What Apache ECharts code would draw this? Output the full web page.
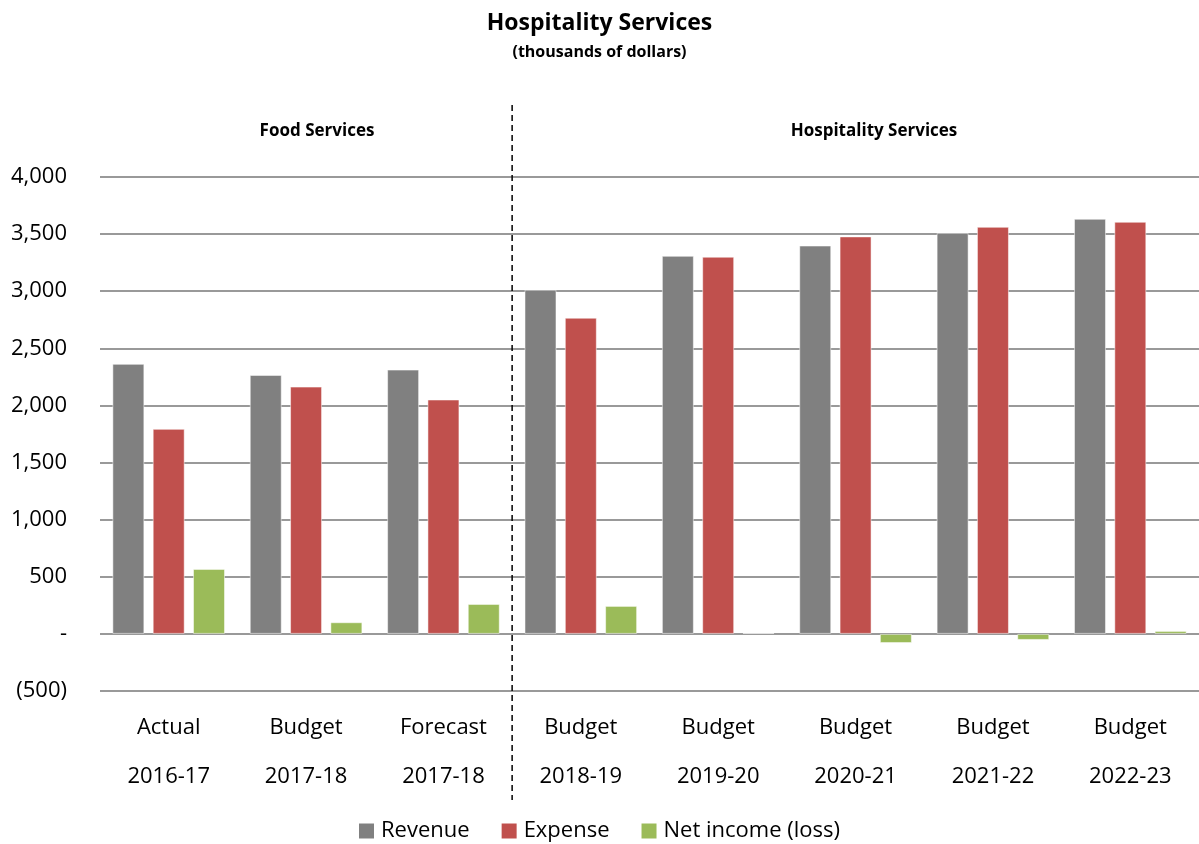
<!DOCTYPE html>
<html>
<head>
<meta charset="utf-8">
<title>Hospitality Services</title>
<script src="https://cdn.jsdelivr.net/npm/echarts@6/dist/echarts.min.js"></script>
<style>
	html, body { margin: 0; padding: 0; background: #fff; }
	#chart { width: 1199px; height: 844px; }
</style>
</head>
<body>
<div id="chart"></div>
<script>
// chart data
var kinds = ['Actual', 'Budget', 'Forecast', 'Budget', 'Budget', 'Budget', 'Budget', 'Budget'];
var years = ['2016-17', '2017-18', '2017-18', '2018-19', '2019-20', '2020-21', '2021-22', '2022-23'];
var revenue = [2364, 2267, 2314, 3013, 3310, 3400, 3511, 3634];
var expense = [1795, 2165, 2052, 2768, 3302, 3480, 3564, 3608];
var netIncome = [569, 102, 262, 245, 8, -80, -53, 26];
var sections = ['Food Services', 'Hospitality Services'];

var font = '"Open Sans", "Liberation Sans", sans-serif';
var categories = kinds.map(function (k, i) { return k + '\n' + years[i]; });

function barSeries(name, data, color) {
	return {
		name: name,
		type: 'bar',
		data: data,
		barWidth: 32,
		barGap: '26%',
		itemStyle: { color: color, borderColor: 'rgba(255,255,255,0.5)', borderWidth: 1 }
	};
}

var myChart = echarts.init(document.getElementById('chart'));

var option = {
	animation: false,
	textStyle: { fontFamily: font },
	title: {
		text: 'Hospitality Services',
		subtext: '(thousands of dollars)',
		left: 'center',
		top: 7,
		itemGap: 9,
		textStyle: { fontSize: 23, fontWeight: 'bold', color: '#000', fontFamily: font },
		subtextStyle: { fontSize: 16, fontWeight: 'bold', color: '#000', fontFamily: font }
	},
	legend: {
		top: 815,
		left: 'center',
		icon: 'rect',
		itemWidth: 15,
		itemHeight: 15,
		itemGap: 32,
		itemStyle: { borderWidth: 0 },
		textStyle: { fontSize: 22, color: '#000', fontFamily: font, padding: [0, 0, 0, 2] },
		data: ['Revenue', 'Expense', 'Net income (loss)']
	},
	grid: { left: 100, right: 0, top: 177, bottom: 153 },
	xAxis: {
		type: 'category',
		data: categories,
		axisLine: { show: false, onZero: false },
		axisTick: { show: false },
		axisLabel: {
			fontSize: 22,
			color: '#000',
			lineHeight: 49,
			margin: 12,
			fontFamily: font
		}
	},
	yAxis: {
		type: 'value',
		min: -500,
		max: 4000,
		interval: 500,
		axisLine: { show: false },
		axisTick: { show: false },
		splitLine: { lineStyle: { color: '#999', width: 2 } },
		axisLabel: {
			fontSize: 22,
			color: '#000',
			margin: 33,
			fontFamily: font,
			formatter: function (v) {
				if (v === 0) return '-';
				var s = Math.abs(v).toLocaleString('en-US');
				return v < 0 ? '(' + s + ')' : s;
			}
		}
	},
	series: [
		barSeries('Revenue', revenue, '#808080'),
		barSeries('Expense', expense, '#C0504D'),
		barSeries('Net income (loss)', netIncome, '#9BBB59')
	]
};

myChart.setOption(option);

// divider between the two sections and their headings
var x3 = myChart.convertToPixel({ xAxisIndex: 0 }, 2);
var x4 = myChart.convertToPixel({ xAxisIndex: 0 }, 3);
var divX = (x3 + x4) / 2;
myChart.setOption({
	graphic: [
		{
			type: 'line',
			shape: { x1: divX, y1: 105, x2: divX, y2: 800 },
			style: { stroke: '#000', lineWidth: 1.5, lineDash: [6, 4] }
		},
		{
			type: 'text',
			x: 317, y: 131,
			style: { text: sections[0], fontSize: 17, fontWeight: 'bold', fill: '#000', fontFamily: font, align: 'center', verticalAlign: 'middle' }
		},
		{
			type: 'text',
			x: 874, y: 131,
			style: { text: sections[1], fontSize: 17, fontWeight: 'bold', fill: '#000', fontFamily: font, align: 'center', verticalAlign: 'middle' }
		}
	]
});
</script>
</body>
</html>
